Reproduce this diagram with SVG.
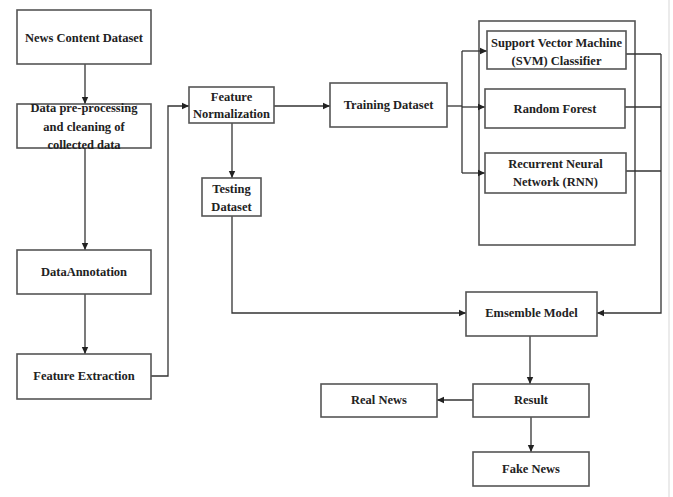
<svg xmlns="http://www.w3.org/2000/svg" width="673" height="497" viewBox="0 0 673 497">
<defs>
<marker id="ah" markerWidth="8" markerHeight="8" refX="7" refY="4" orient="auto" markerUnits="userSpaceOnUse">
<path d="M0,0.8 L7,4 L0,7.2 z" fill="#222"/>
</marker>
<style>
.box{fill:#fff;stroke:#555;stroke-width:1.6}
.t{font-family:"Liberation Serif","Times New Roman",serif;font-weight:bold;font-size:12.5px;fill:#222;text-anchor:middle}
.c{fill:none;stroke:#333;stroke-width:1.3}
.ca{fill:none;stroke:#333;stroke-width:1.3;marker-end:url(#ah)}
</style>
</defs>
<rect width="673" height="497" fill="#fff"/>
<line x1="669" y1="0" x2="669" y2="497" stroke="#e4e4e4" stroke-width="1.5"/>
<g id="container"><rect class="box" x="479" y="21" width="156" height="224"/></g>
<g id="connectors">
<path class="ca" d="M85,64 V104"/>
<path class="ca" d="M85,148 V250"/>
<path class="ca" d="M85,294 V354"/>
<path class="ca" d="M151,376 H168 V106 H189"/>
<path class="ca" d="M274,106 H330"/>
<path class="ca" d="M232,123 V178"/>
<path class="c" d="M447,106 H462"/>
<path class="c" d="M462,51 V173"/>
<path class="ca" d="M462,51 H487"/>
<path class="ca" d="M462,107 H485"/>
<path class="ca" d="M462,173 H485"/>
<path class="c" d="M626,54 H661"/>
<path class="c" d="M625,107 H661"/>
<path class="c" d="M626,171 H661"/>
<path class="ca" d="M661,54 V313 H597"/>
<path class="ca" d="M232,216 V313 H466"/>
<path class="ca" d="M530,336 V384"/>
<path class="ca" d="M473,400 H437"/>
<path class="ca" d="M531,417 V452"/>
</g>
<g id="news-content"><rect class="box" x="17" y="10" width="134" height="54"/><text class="t" x="84" y="42">News Content Dataset</text></g>
<g id="preprocessing"><rect class="box" x="17" y="104" width="134" height="44"/><text class="t" x="84" y="112">Data pre-processing</text><text class="t" x="84" y="131">and cleaning of</text><text class="t" x="84" y="149">collected data</text></g>
<g id="annotation"><rect class="box" x="17" y="250" width="134" height="44"/><text class="t" x="84" y="276">DataAnnotation</text></g>
<g id="extraction"><rect class="box" x="17" y="354" width="134" height="45"/><text class="t" x="84" y="380">Feature Extraction</text></g>
<g id="normalization"><rect class="box" x="189" y="87" width="85" height="36"/><text class="t" x="231.5" y="101">Feature</text><text class="t" x="231.5" y="118">Normalization</text></g>
<g id="testing"><rect class="box" x="202" y="178" width="59" height="38"/><text class="t" x="231.5" y="193">Testing</text><text class="t" x="231.5" y="211">Dataset</text></g>
<g id="training"><rect class="box" x="330" y="83" width="117" height="44"/><text class="t" x="388.5" y="109">Training Dataset</text></g>
<g id="svm"><rect class="box" x="487" y="31" width="139" height="38"/><text class="t" x="556.5" y="47">Support Vector Machine</text><text class="t" x="556.5" y="65">(SVM) Classifier</text></g>
<g id="rf"><rect class="box" x="485" y="89" width="140" height="39"/><text class="t" x="555" y="113">Random Forest</text></g>
<g id="rnn"><rect class="box" x="485" y="153" width="141" height="40"/><text class="t" x="555.5" y="168">Recurrent Neural</text><text class="t" x="555.5" y="186">Network (RNN)</text></g>
<g id="ensemble"><rect class="box" x="466" y="292" width="131" height="44"/><text class="t" x="531.5" y="317">Emsemble Model</text></g>
<g id="result"><rect class="box" x="473" y="384" width="116" height="33"/><text class="t" x="531" y="404">Result</text></g>
<g id="real-news"><rect class="box" x="321" y="384" width="116" height="33"/><text class="t" x="379" y="404">Real News</text></g>
<g id="fake-news"><rect class="box" x="473" y="452" width="116" height="34"/><text class="t" x="531" y="473">Fake News</text></g>
</svg>
